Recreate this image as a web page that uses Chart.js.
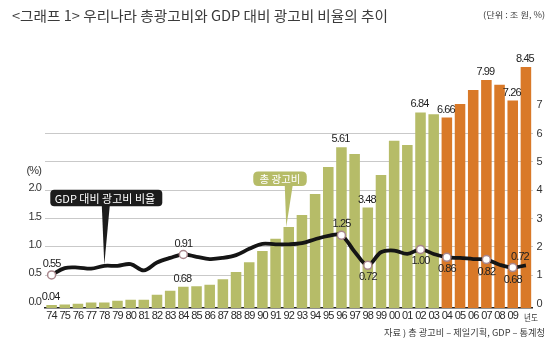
<!DOCTYPE html>
<html><head><meta charset="utf-8">
<script src="https://cdn.jsdelivr.net/npm/chart.js@4"></script>
<style>
html,body{margin:0;padding:0;background:#fff;}
#wrap{position:relative;width:560px;height:360px;overflow:hidden;}
canvas{position:absolute;left:0;top:0;}
.t{position:absolute;white-space:nowrap;transform-origin:0 50%;font-family:"Noto Sans CJK KR",sans-serif;color:#3a3a3a;line-height:1;}
</style></head>
<body>
<div id="wrap">
<canvas id="c" width="560" height="360"></canvas>
<div class="t" id="title" style="left:12px;top:8px;font-size:14px;">&lt;그래프 1&gt; 우리나라 총광고비와 GDP 대비 광고비 비율의 추이</div>
<div class="t" id="unit" style="left:483px;top:10px;font-size:8.5px;">(단위 : 조 원, %)</div>
<div class="t" id="src" style="left:384px;top:328px;font-size:9px;">자료 ) 총 광고비 – 제일기획, GDP – 통계청</div>
</div>
<script>
// ---- data ----
const years = ['74','75','76','77','78','79','80','81','82','83','84','85','86','87','88','89','90','91','92','93','94','95','96','97','98','99','00','01','02','03','04','05','06','07','08','09',''];
const adSpend = [0.04,0.05,0.08,0.12,0.12,0.19,0.22,0.22,0.40,0.54,0.68,0.70,0.75,0.95,1.20,1.55,1.94,2.38,2.79,3.22,3.96,4.91,5.61,5.37,3.48,4.63,5.84,5.69,6.84,6.78,6.66,7.14,7.63,7.99,7.82,7.26,8.45];
const gdpRatio = [0.55,0.67,0.68,0.66,0.71,0.71,0.74,0.63,0.77,0.85,0.91,0.87,0.83,0.85,0.90,1.01,1.10,1.09,1.09,1.11,1.18,1.24,1.25,0.96,0.72,0.95,0.98,0.92,1.00,0.92,0.86,0.85,0.83,0.82,0.73,0.68,0.72];
const rightTicks = [0,1,2,3,4,5,6,7];
const leftTicks = [0,0.5,1.0,1.5,2.0];
const barLabelIdx = [0,10,22,24,28,30,33,35,36];
const lineLabelIdx = [0,10,22,24,28,30,33,35,36];
const lineLabelPos = ['up','up','up','down','down','down','down','down','upleft'];
const markedIdx = [0,10,22,24,28,30,33,35];
const firstOrangeIdx = 30;
const lineCalloutIdx = 4, barCalloutIdx = 18;
const lineName = 'GDP 대비 광고비 비율', barName = '총 광고비', xUnit = '년도';

const GREEN = 'rgb(182,188,104)', ORANGE = 'rgb(217,121,40)';
const NARROW = "'Liberation Sans Narrow','Liberation Sans',sans-serif";
const KR = "'Noto Sans CJK KR',sans-serif";
const TIGHT = '-0.9px';

function rr(ctx,x,y,w,h,r){ctx.beginPath();ctx.moveTo(x+r,y);ctx.lineTo(x+w-r,y);ctx.quadraticCurveTo(x+w,y,x+w,y+r);ctx.lineTo(x+w,y+h-r);ctx.quadraticCurveTo(x+w,y+h,x+w-r,y+h);ctx.lineTo(x+r,y+h);ctx.quadraticCurveTo(x,y+h,x,y+h-r);ctx.lineTo(x,y+r);ctx.quadraticCurveTo(x,y,x+r,y);ctx.closePath();}

const tight = {
  id:'tight',
  beforeInit(chart){ chart.ctx.letterSpacing = TIGHT; },
  beforeUpdate(chart){ chart.ctx.letterSpacing = TIGHT; },
  beforeDraw(chart){ chart.ctx.letterSpacing = TIGHT; }
};

const annot = {
  id:'annot',
  afterDatasetsDraw(chart){
    const ctx = chart.ctx;
    const bm = chart.getDatasetMeta(1), lm = chart.getDatasetMeta(0);
    ctx.save();
    ctx.letterSpacing = TIGHT;
    ctx.fillStyle = '#222'; ctx.font = '11px ' + NARROW; ctx.textAlign='center'; ctx.textBaseline='middle';
    barLabelIdx.forEach(i=>{const e=bm.data[i]; ctx.fillText(adSpend[i].toFixed(2), e.x-1, e.y-8);});
    lineLabelIdx.forEach((i,k)=>{const e=lm.data[i]; const p=lineLabelPos[k];
      let dx=0,dy=-11; if(p==='down'){dy=12;} if(p==='upleft'){dx=-6;dy=-8;}
      ctx.fillText(gdpRatio[i].toFixed(2), e.x+dx, e.y+dy);});
    ctx.letterSpacing = '0px';
    // black callout
    let t = lm.data[lineCalloutIdx];
    let x0=t.x-54, y0=t.y-76, w=112, h=16.5;
    ctx.fillStyle='#1c1c1c';
    rr(ctx,x0,y0,w,h,4); ctx.fill();
    ctx.beginPath(); ctx.moveTo(t.x-2.5,y0+h-1); ctx.lineTo(t.x+5.5,y0+h-1); ctx.lineTo(t.x,t.y-1); ctx.closePath(); ctx.fill();
    ctx.fillStyle='#fff'; ctx.font='11px '+KR; ctx.textAlign='left'; ctx.textBaseline='middle';
    ctx.fillText(lineName, x0+4.5, y0+h/2+0.5, w-8);
    // green callout
    t = bm.data[barCalloutIdx];
    x0=t.x-35.5; y0=t.y-55.5; w=53.5; h=14.5;
    ctx.fillStyle=GREEN;
    rr(ctx,x0,y0,w,h,5); ctx.fill();
    ctx.beginPath(); ctx.moveTo(t.x-4,y0+h-1); ctx.lineTo(t.x+4,y0+h-1); ctx.lineTo(t.x-2.5,t.y); ctx.closePath(); ctx.fill();
    ctx.fillStyle='#fff'; ctx.font='10.5px '+KR; ctx.textAlign='center';
    ctx.fillText(barName, x0+w/2, y0+h/2+0.5, w-8);
    // x unit
    const xs = chart.scales.x;
    ctx.fillStyle='#333'; ctx.font='9px '+KR; ctx.textAlign='center';
    ctx.fillText(xUnit, xs.getPixelForValue(years.length-1)+5, 318, 14);
    ctx.restore();
    ctx.letterSpacing = TIGHT;
  }
};

new Chart(document.getElementById('c'), {
  data:{
    labels: years,
    datasets:[
      {type:'line', label:lineName, data:gdpRatio, yAxisID:'yLine', order:0,
       borderColor:'#151515', borderWidth:3.8, tension:0.35, fill:false,
       pointRadius: gdpRatio.map((v,i)=>markedIdx.includes(i)?4:0),
       pointBackgroundColor:'#fff', pointBorderColor:'#a8868c', pointBorderWidth:1.5},
      {type:'bar', label:barName, data:adSpend, yAxisID:'y', order:1,
       backgroundColor: adSpend.map((v,i)=>i>=firstOrangeIdx?ORANGE:GREEN),
       barPercentage:0.8, categoryPercentage:1.0, base:-0.07}
    ]
  },
  options:{
    responsive:false, animation:false, devicePixelRatio:1,
    layout:{padding:{top:50,left:0,right:0,bottom:0}},
    plugins:{legend:{display:false}, tooltip:{enabled:false}},
    scales:{
      x:{offset:true, grid:{display:false, drawTicks:false}, border:{display:true,color:'#222',width:1.5},
         ticks:{font:{family:NARROW,size:11}, color:'#2a2a2a', padding:1, maxRotation:0, minRotation:0, autoSkip:false},
         afterFit(s){s.height=52;}},
      y:{display:false, min:-0.07, max:9.047},
      yLine:{display:false, min:-0.035, max:4.5235},
      yR:{position:'right', min:-0.16, max:8.957,
          afterBuildTicks(s){s.ticks = rightTicks.map(v=>({value:v}));},
          grid:{drawTicks:false, color:(c)=> (c.tick && c.tick.value>=1 && c.tick.value<=6)?'#c9c9c9':'rgba(0,0,0,0)'},
          border:{display:false},
          ticks:{font:{family:NARROW,size:11}, color:'#333', padding:4, callback:(v)=>String(v)},
          afterFit(s){s.width=27.5;}},
      yL:{position:'left', min:-0.08, max:4.4785,
          afterBuildTicks(s){s.ticks = leftTicks.map(v=>({value:v})).concat([{value:2.3}]);},
          grid:{display:false, drawTicks:false}, border:{display:false},
          ticks:{font:{family:NARROW,size:11}, color:'#333', padding:4, labelOffset:-2,
                 callback:(v)=> v===2.3 ? '(%)' : Number(v).toFixed(1)},
          afterFit(s){s.width=45;}}
    }
  },
  plugins:[tight, annot]
});

function fit(id,w){const el=document.getElementById(id);const m=el.offsetWidth;if(m>0)el.style.transform='scaleX('+(w/m)+')';}
fit('title',376); fit('unit',62); fit('src',161);
</script>
</body></html>
